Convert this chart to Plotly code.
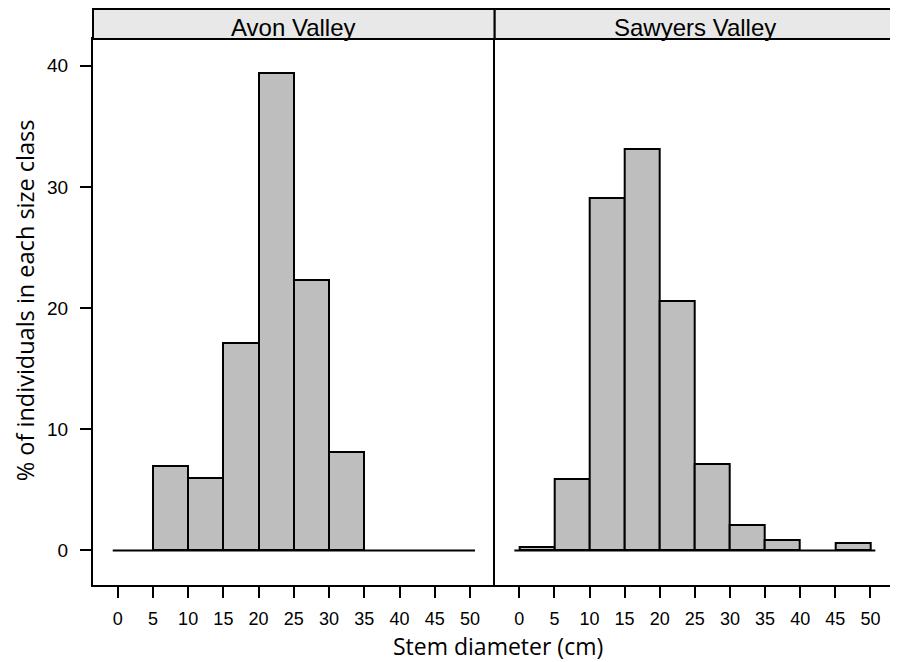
import plotly.graph_objects as go

# ---- data ----
bin_starts = [0, 5, 10, 15, 20, 25, 30, 35, 40, 45]
tick_vals = [0, 5, 10, 15, 20, 25, 30, 35, 40, 45, 50]
tick_text = ["0", "5", "10", "15", "20", "25", "30", "35", "40", "45", "50"]
avon_pct = [0, 7.0, 6.0, 17.1, 39.4, 22.3, 8.1, 0, 0, 0]
sawyers_pct = [0.25, 5.9, 29.1, 33.1, 20.6, 7.15, 2.1, 0.9, 0, 0.6]
panel_names = ["Avon Valley", "Sawyers Valley"]
y_ticks = [0, 10, 20, 30, 40]

# page has an 8px body margin; figure is sized so the page content fits 898x662
OFF = 8
W, H = 890, 654
ML, MR, MT, MB = 85, 1, 1, 77
plot_w = W - ML - MR
plot_h = H - MT - MB


def px(page_x):
    return (page_x - OFF - ML) / plot_w


def py(page_y):
    return (H - MB - (page_y - OFF)) / plot_h


split = px(495.7)
ytop = py(39)

fig = go.Figure()

series = [avon_pct, sawyers_pct]
for i, vals in enumerate(series):
    xa = "x" if i == 0 else "x2"
    ya = "y" if i == 0 else "y2"
    fig.add_trace(go.Scatter(x=[-0.7, 50.7], y=[0, 0], mode="lines",
                             line=dict(color="black", width=2),
                             xaxis=xa, yaxis=ya, showlegend=False, hoverinfo="skip"))
    xs = [b + 2.5 for b, v in zip(bin_starts, vals) if v > 0]
    ys = [v for v in vals if v > 0]
    fig.add_trace(go.Bar(x=xs, y=ys, width=5, marker=dict(color="#bebebe",
                         line=dict(color="black", width=2)),
                         xaxis=xa, yaxis=ya, showlegend=False))

xcommon = dict(range=[-3.5, 53.5], tickvals=tick_vals, ticktext=tick_text,
               ticks="outside", ticklen=11, tickwidth=2, tickcolor="black",
               showline=True, linecolor="black", linewidth=2, mirror=True,
               showgrid=False, zeroline=False,
               tickfont=dict(family="Liberation Sans, Arial", size=18, color="black"),
               ticklabelstandoff=5)

fig.update_layout(
    width=W, height=H,
    margin=dict(l=ML, r=MR, t=MT, b=MB, pad=0),
    paper_bgcolor="white", plot_bgcolor="white",
    bargap=0,
    xaxis=dict(domain=[0, split], anchor="y", **xcommon),
    xaxis2=dict(domain=[split, 1], anchor="y2", **xcommon),
    yaxis=dict(domain=[0, ytop], anchor="x", tickvals=y_ticks, range=[-2.85, 42.2],
               ticks="outside", ticklen=11, tickwidth=2, tickcolor="black",
               tickfont=dict(family="Liberation Sans, Arial", size=19, color="black"),
               ticklabelstandoff=8, showline=True, linecolor="black", linewidth=2,
               mirror=False, showgrid=False, zeroline=False),
    yaxis2=dict(domain=[0, ytop], anchor="x2", showticklabels=False, ticks="",
                range=[-2.85, 42.2], showline=True, linecolor="black", linewidth=2,
                mirror=True, showgrid=False, zeroline=False),
)

# strips
for i, name in enumerate(panel_names):
    x0 = 0 if i == 0 else split
    x1 = split if i == 0 else 1
    fig.add_shape(type="rect", xref="paper", yref="paper", x0=x0, x1=x1,
                  y0=ytop, y1=1, fillcolor="#e8e8e8",
                  line=dict(color="black", width=2), layer="above")
    fig.add_annotation(text=name, xref="paper", yref="paper", x=(x0 + x1) / 2,
                       y=ytop, yanchor="bottom", xanchor="center", yshift=-4,
                       showarrow=False,
                       font=dict(family="Liberation Sans, Arial", size=24, color="black"))

# axis titles
fig.add_annotation(text="Stem diameter (cm)", xref="paper", yref="paper",
                   x=px(499), y=py(646),
                   xanchor="center", yanchor="middle", showarrow=False,
                   font=dict(family="Open Sans", size=23, color="black"))
fig.add_annotation(text="% of individuals in each size class", xref="paper", yref="paper",
                   x=px(25), y=py(300),
                   xanchor="center", yanchor="middle", textangle=-90, showarrow=False,
                   font=dict(family="Open Sans", size=23.5, color="black"))

fig.write_html("out.html")
